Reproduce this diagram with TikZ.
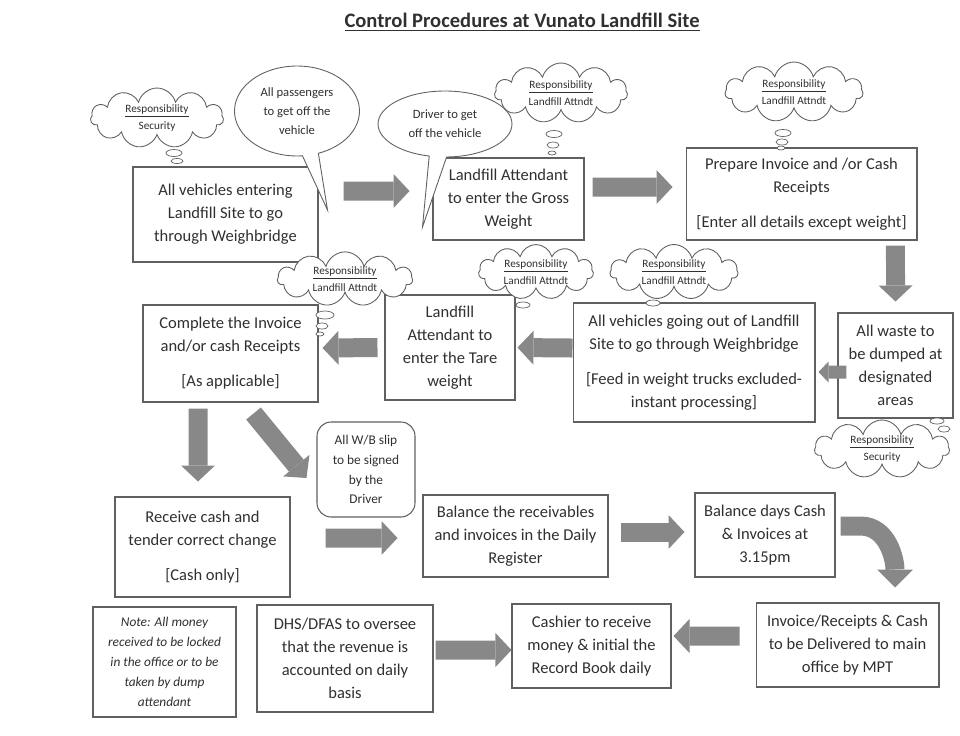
\documentclass[tikz,border=0pt]{standalone}
\usepackage{fontspec}
\setmainfont{Carlito}
\usetikzlibrary{arrows.meta, shapes.symbols, shapes.callouts}

\definecolor{boxline}{HTML}{606060}
\definecolor{inkgray}{HTML}{303030}
\definecolor{arrowgray}{HTML}{888888}

\begin{document}
\begin{tikzpicture}[
            x=0.02cm, y=-0.02cm,
            proc/.style={rectangle, draw=boxline, line width=0.6pt, fill=white,
            text=inkgray, align=center, inner sep=2pt,
            font=\fontsize{9.4}{13}\selectfont},
            memo/.style={proc, font=\fontsize{7.6}{11.3}\selectfont\itshape},
            slipbox/.style={proc, rounded corners=8pt, font=\fontsize{7.6}{11.3}\selectfont},
            resp/.style={cloud, cloud puffs=11, cloud ignores aspect, draw=boxline,
            line width=0.5pt, fill=white, text=inkgray, align=center, inner sep=0pt,
            font=\fontsize{6.4}{10}\selectfont},
            talk/.style={ellipse callout, draw=boxline, line width=0.5pt, fill=white,
            text=inkgray, align=center, inner sep=0pt, font=\fontsize{7.2}{11}\selectfont},
            bub/.style={draw=boxline, line width=0.4pt, fill=white},
            flow/.style={draw=arrowgray, line width=0.38cm,
            -{Triangle[length=0.32cm, width=0.68cm, line width=0pt]}},
            flowsmall/.style={flow, line width=0.26cm,
            -{Triangle[length=0.2cm, width=0.42cm, line width=0pt]}}
        ]
            \useasboundingbox (0,0) rectangle (960,735);

% ----- Titel -----
            \node[text=inkgray, font=\fontsize{11.7}{13}\selectfont\bfseries] (title) at (522,22)
                {\underline{Control Procedures at Vunato Landfill Site}};

% ----- Kaesten (Reihe 1) -----
            \node[proc, minimum width=3.7cm, minimum height=1.9cm] (entry) at (225.5,214.5)
                {All vehicles entering\\Landfill Site to go\\through Weighbridge};
            \node[proc, minimum width=3.02cm, minimum height=1.64cm] (gross) at (508.5,199)
                {Landfill Attendant\\to enter the Gross\\Weight};
            \node[proc, minimum width=4.62cm, minimum height=1.84cm] (invoice) at (801.5,194)
                {Prepare Invoice and /or Cash\\Receipts\\[7pt]{[}Enter all details except weight{]}};

% ----- Kaesten (Reihe 2) -----
            \node[proc, minimum width=2.3cm, minimum height=2.1cm] (dump) at (895.5,365.5)
                {All waste to\\be dumped at\\designated\\areas};
            \node[proc, minimum width=4.84cm, minimum height=2.38cm] (exitw) at (694,362.5)
                {All vehicles going out of Landfill\\Site to go through Weighbridge\\[7pt]{[}Feed in weight trucks excluded-\\instant processing{]}};
            \node[proc, minimum width=2.6cm, minimum height=2.1cm] (tare) at (450,347.5)
                {Landfill\\Attendant to\\enter the Tare\\weight};
            \node[proc, minimum width=3.5cm, minimum height=1.94cm] (complete) at (230.5,353.5)
                {Complete the Invoice\\and/or cash Receipts\\[7pt]{[}As applicable{]}};

% ----- Kaesten (Reihe 3) -----
            \node[slipbox, minimum width=1.96cm, minimum height=1.9cm] (slip) at (366,469.5)
                {All W/B slip\\to be signed\\by the\\Driver};
            \node[proc, minimum width=3.5cm, minimum height=2cm] (cash) at (202.5,547)
                {Receive cash and\\tender correct change\\[7pt]{[}Cash only{]}};
            \node[proc, minimum width=3.7cm, minimum height=1.64cm] (register) at (515.5,536)
                {Balance the receivables\\and invoices in the Daily\\Register};
            \node[proc, minimum width=2.8cm, minimum height=1.68cm] (balance) at (765,535)
                {Balance days Cash\\\& Invoices at\\3.15pm};

% ----- Kaesten (Reihe 4) -----
            \node[proc, minimum width=3.66cm, minimum height=1.68cm] (deliver) at (847.5,645)
                {Invoice/Receipts \& Cash\\to be Delivered to main\\office by MPT};
            \node[proc, minimum width=3.18cm, minimum height=1.68cm] (cashier) at (591.5,646)
                {Cashier to receive\\money \& initial the\\Record Book daily};
            \node[proc, minimum width=3.52cm, minimum height=2.14cm] (oversee) at (345,658.5)
                {DHS/DFAS to oversee\\that the revenue is\\accounted on daily\\basis};
            \node[memo, minimum width=2.86cm, minimum height=2.2cm] (memo) at (164.5,662)
                {Note: All money\\received to be locked\\in the office or to be\\taken by dump\\attendant};

% ----- Sprechblasen -----
            \node[talk, minimum width=2.5cm, minimum height=1.8cm,
                callout absolute pointer={([xshift=0.18cm,yshift=0.09cm]entry.east)}] (pass) at (297,111)
                {All passengers\\to get off the\\vehicle};
            \node[talk, minimum width=2.68cm, minimum height=1.32cm,
                callout absolute pointer={([xshift=-0.2cm,yshift=-0.56cm]gross.west)}] (driver) at (445,124)
                {Driver to get\\off the vehicle};

% ----- Wolken (Verantwortung) -----
            \node[resp, minimum width=2.66cm, minimum height=1.2cm] (rsec1) at (157,118)
                {\underline{Responsibility}\\Security};
            \node[resp, minimum width=2.66cm, minimum height=1.2cm] (ratt1) at (561,93)
                {\underline{Responsibility}\\Landfill Attndt};
            \node[resp, minimum width=2.76cm, minimum height=1.2cm] (ratt2) at (794,92)
                {\underline{Responsibility}\\Landfill Attndt};
            \node[resp, minimum width=2.7cm, minimum height=1.06cm] (ratt3) at (345,279)
                {\underline{Responsibility}\\Landfill Attndt};
            \node[resp, minimum width=2.3cm, minimum height=1.1cm] (ratt4) at (536,272)
                {\underline{Responsibility}\\Landfill Attndt};
            \node[resp, minimum width=2.56cm, minimum height=1.1cm] (ratt5) at (674,272)
                {\underline{Responsibility}\\Landfill Attndt};
            \node[resp, minimum width=2.7cm, minimum height=1.16cm] (rsec2) at (882,449)
                {\underline{Responsibility}\\Security};

% Denkblasen
            \draw[bub] (174,153) ellipse [x radius=8, y radius=3.5];
            \draw[bub] (177,161) ellipse [x radius=6, y radius=2.5];
            \draw[bub] (554,134) ellipse [x radius=8, y radius=3.5];
            \draw[bub] (553,145) ellipse [x radius=6, y radius=3];
            \draw[bub] (552,153) ellipse [x radius=4, y radius=2];
            \draw[bub] (783,133) ellipse [x radius=8, y radius=3.5];
            \draw[bub] (782,142) ellipse [x radius=6, y radius=3];
            \draw[bub] (781,148) ellipse [x radius=4, y radius=2];
            \draw[bub] (325,315) ellipse [x radius=9, y radius=4];
            \draw[bub] (322,326) ellipse [x radius=6, y radius=3];
            \draw[bub] (320,334) ellipse [x radius=4, y radius=2];
            \draw[bub] (523,305) ellipse [x radius=7, y radius=3];
            \draw[bub] (653,303) ellipse [x radius=7, y radius=3];
            \draw[bub] (937,421) ellipse [x radius=7, y radius=3];
            \draw[bub] (944,429) ellipse [x radius=6, y radius=3];

% ----- Blockpfeile -----
            \draw[flow, shorten <=0.5cm, shorten >=0.46cm] ([yshift=0.47cm]entry.east) -- ([yshift=0.16cm]gross.west);
            \draw[flow, shorten <=0.16cm, shorten >=0.26cm] ([yshift=0.24cm]gross.east) -- ([yshift=0.14cm]invoice.west);
            \draw[flow, shorten <=0.1cm, shorten >=0.22cm] ([xshift=1.88cm]invoice.south) -- (dump.north);
            \draw[flowsmall, shorten >=0.06cm] ([xshift=0.18cm,yshift=-0.13cm]dump.west) -- ([yshift=-0.19cm]exitw.east);
            \draw[flow, shorten >=0.04cm] ([yshift=0.29cm]exitw.west) -- (tare.east);
            \draw[flow, shorten <=0.14cm, shorten >=0.08cm] (tare.west) -- ([yshift=0.11cm]complete.east);
            \draw[flow, shorten <=0.12cm, shorten >=0.3cm] ([xshift=-0.65cm]complete.south) -- ([xshift=-0.09cm]cash.north);
            \draw[flow] ([xshift=-1.3cm,yshift=-0.22cm]complete.south east) -- ([xshift=-0.2cm,yshift=-0.17cm]slip.west);
            \draw[flow, shorten <=0.7cm, shorten >=0.5cm] ([yshift=0.18cm]cash.east) -- ([yshift=-0.04cm]register.west);
            \draw[flow, shorten <=0.24cm, shorten >=0.2cm] ([yshift=0.08cm]register.east) -- ([yshift=0.06cm]balance.west);
            \draw[flow, -{Triangle[length=0.36cm, width=0.72cm, line width=0pt, quick]}]
                ([xshift=0.1cm,yshift=0.18cm]balance.east) -- ++(0.4cm,0)
                to[out=0, in=90] ([xshift=0.95cm,yshift=0.3cm]deliver.north);
            \draw[flow, shorten <=0.32cm, shorten >=0.04cm] ([yshift=0.18cm]deliver.west) -- ([yshift=0.2cm]cashier.east);
            \draw[flow, shorten <=0.04cm] ([yshift=0.17cm]oversee.east) -- ([yshift=-0.08cm]cashier.west);

        \end{tikzpicture}
\end{document}
